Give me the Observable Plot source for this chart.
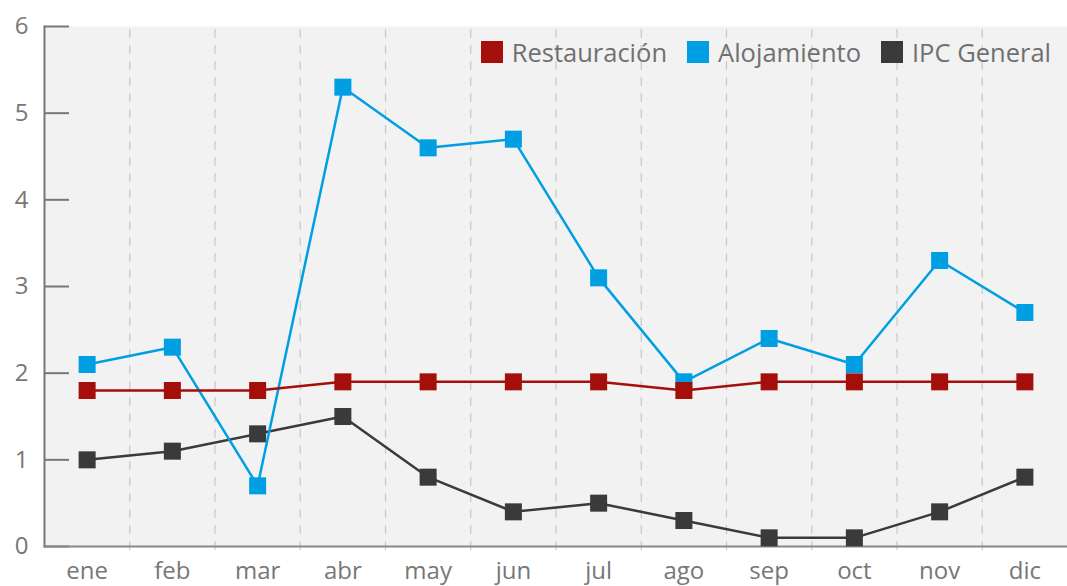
<!DOCTYPE html>
<html><head><meta charset="utf-8">
<script src="https://cdn.jsdelivr.net/npm/d3@7"></script>
<script src="https://cdn.jsdelivr.net/npm/@observablehq/plot@0.6"></script>
<style>
html,body{margin:0;padding:0;background:#fff;}
#wrap{position:relative;width:1067px;height:586px;font-family:"Open Sans",sans-serif;}
#legend{position:absolute;top:35px;right:16px;display:flex;align-items:center;font-size:25.5px;color:#707070;}
#legend .it{display:flex;align-items:center;margin-left:20px;}
#legend .sw{width:22px;height:22px;margin-right:9px;}
</style></head>
<body><div id="wrap"><div id="legend"></div></div>
<script>
const months = ["ene","feb","mar","abr","may","jun","jul","ago","sep","oct","nov","dic"];
const restauracion = [1.8,1.8,1.8,1.9,1.9,1.9,1.9,1.8,1.9,1.9,1.9,1.9];
const alojamiento = [2.1,2.3,0.7,5.3,4.6,4.7,3.1,1.9,2.4,2.1,3.3,2.7];
const ipcGeneral = [1.0,1.1,1.3,1.5,0.8,0.4,0.5,0.3,0.1,0.1,0.4,0.8];
const yTicks = [0,1,2,3,4,5,6];
const seriesNames = ["Restauración","Alojamiento","IPC General"];
const seriesColors = ["#a50f0b","#009fe3","#3a3a3a"];

const seriesVals = [restauracion, alojamiento, ipcGeneral];
const rows = s => seriesVals[s].map((v,i)=>({i, v, s: seriesNames[s]}));
const gridPos = months.slice(1).map((m,i)=>i+0.5);
const drawOrder = [2,1,0];
const grey = "#777";

const marks = [
  Plot.frame({fill:"#f2f2f2", stroke:null}),
  Plot.ruleX(gridPos, {stroke:"#c8c8c8", strokeWidth:1.2, strokeDasharray:"9,7", y1:0, y2:6, insetTop:4}),
  Plot.axisY({ticks:yTicks, tickSize:25, dx:25, text:null, label:null, stroke:grey, strokeWidth:2}),
  Plot.axisY({ticks:yTicks, tickFormat:d3.format("d"), tickSize:0, tickPadding:16, fontSize:24, fill:grey, label:null}),
  Plot.axisX({ticks:d3.range(months.length), tickFormat:i=>months[i], tickSize:0, tickPadding:15, fontSize:24, fill:grey, label:null}),
  Plot.frame({anchor:"left", stroke:grey, strokeWidth:2}),
  Plot.frame({anchor:"bottom", stroke:"#888", strokeWidth:2}),
];
for (const s of drawOrder) {
  marks.push(Plot.line(rows(s), {x:"i", y:"v", stroke:seriesColors[s], strokeWidth:2.5}));
  marks.push(Plot.dot(rows(s), {x:"i", y:"v", symbol:"square", r:9.6, fill:seriesColors[s], stroke:null}));
}

const chart = Plot.plot({
  width:1067, height:586,
  marginLeft:44, marginRight:0, marginTop:26, marginBottom:40,
  style:{fontFamily:"'Open Sans',sans-serif", background:"transparent"},
  x:{domain:[-0.5, months.length-0.5], axis:null},
  y:{domain:[0,6], axis:null},
  marks
});
const wrap = document.getElementById("wrap");
wrap.insertBefore(chart, wrap.firstChild);
const lg = document.getElementById("legend");
seriesNames.forEach((n,k)=>{
  const it = document.createElement("div"); it.className="it";
  const sw = document.createElement("div"); sw.className="sw"; sw.style.background=seriesColors[k];
  const t = document.createElement("span"); t.textContent=n;
  it.appendChild(sw); it.appendChild(t); lg.appendChild(it);
});
</script></body></html>
